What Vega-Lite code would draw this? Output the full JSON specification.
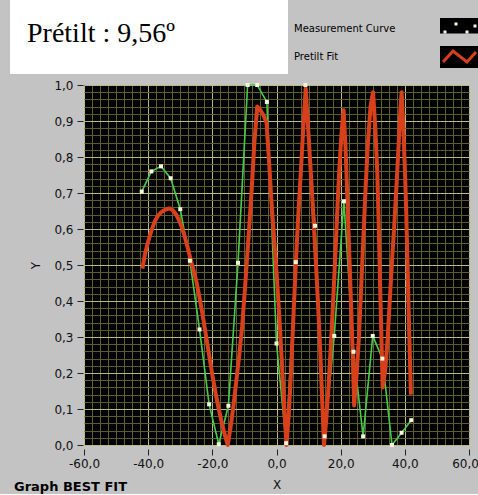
{
  "$schema": "https://vega.github.io/schema/vega-lite/v6.json",
  "background": "#c3c3c3",
  "padding": {"left": 10, "top": 0, "right": 0, "bottom": 0},
  "spacing": 5,
  "title": {
    "text": "Graph BEST FIT",
    "orient": "bottom",
    "anchor": "start",
    "frame": "group",
    "offset": 1,
    "dx": 4,
    "baseline": "alphabetic",
    "font": "DejaVu Sans",
    "fontSize": 13,
    "fontWeight": "bold",
    "color": "black"
  },
  "datasets": {
    "measure": [
      {"series": "Measurement Curve", "x": -42, "y": 0.704},
      {"series": "Measurement Curve", "x": -39, "y": 0.760},
      {"series": "Measurement Curve", "x": -36, "y": 0.774},
      {"series": "Measurement Curve", "x": -33, "y": 0.741},
      {"series": "Measurement Curve", "x": -30, "y": 0.655},
      {"series": "Measurement Curve", "x": -27, "y": 0.512},
      {"series": "Measurement Curve", "x": -24, "y": 0.321},
      {"series": "Measurement Curve", "x": -21, "y": 0.113},
      {"series": "Measurement Curve", "x": -18, "y": 0.002},
      {"series": "Measurement Curve", "x": -15, "y": 0.109},
      {"series": "Measurement Curve", "x": -12, "y": 0.506},
      {"series": "Measurement Curve", "x": -9, "y": 1.0},
      {"series": "Measurement Curve", "x": -6, "y": 1.0},
      {"series": "Measurement Curve", "x": -3, "y": 0.953},
      {"series": "Measurement Curve", "x": 0, "y": 0.282},
      {"series": "Measurement Curve", "x": 3, "y": 0.005},
      {"series": "Measurement Curve", "x": 6, "y": 0.508},
      {"series": "Measurement Curve", "x": 9, "y": 1.0},
      {"series": "Measurement Curve", "x": 12, "y": 0.609},
      {"series": "Measurement Curve", "x": 15, "y": 0.024},
      {"series": "Measurement Curve", "x": 18, "y": 0.303},
      {"series": "Measurement Curve", "x": 21, "y": 0.677},
      {"series": "Measurement Curve", "x": 24, "y": 0.259},
      {"series": "Measurement Curve", "x": 27, "y": 0.024},
      {"series": "Measurement Curve", "x": 30, "y": 0.303},
      {"series": "Measurement Curve", "x": 33, "y": 0.240},
      {"series": "Measurement Curve", "x": 36, "y": 0.0},
      {"series": "Measurement Curve", "x": 39, "y": 0.034},
      {"series": "Measurement Curve", "x": 42, "y": 0.069}
    ],
    "fit": [
      {"series": "Pretilt Fit", "x": -41.8, "y": 0.49},
      {"series": "Pretilt Fit", "x": -41.0, "y": 0.53},
      {"series": "Pretilt Fit", "x": -40.0, "y": 0.565},
      {"series": "Pretilt Fit", "x": -39.0, "y": 0.595},
      {"series": "Pretilt Fit", "x": -38.0, "y": 0.62},
      {"series": "Pretilt Fit", "x": -37.0, "y": 0.636},
      {"series": "Pretilt Fit", "x": -36.0, "y": 0.646},
      {"series": "Pretilt Fit", "x": -35.0, "y": 0.652},
      {"series": "Pretilt Fit", "x": -34.0, "y": 0.656},
      {"series": "Pretilt Fit", "x": -33.2, "y": 0.657},
      {"series": "Pretilt Fit", "x": -32.3, "y": 0.652},
      {"series": "Pretilt Fit", "x": -31.4, "y": 0.642},
      {"series": "Pretilt Fit", "x": -30.5, "y": 0.627},
      {"series": "Pretilt Fit", "x": -29.6, "y": 0.607},
      {"series": "Pretilt Fit", "x": -28.7, "y": 0.582},
      {"series": "Pretilt Fit", "x": -27.8, "y": 0.553},
      {"series": "Pretilt Fit", "x": -26.9, "y": 0.52},
      {"series": "Pretilt Fit", "x": -26.0, "y": 0.49},
      {"series": "Pretilt Fit", "x": -25.0, "y": 0.455},
      {"series": "Pretilt Fit", "x": -24.0, "y": 0.41},
      {"series": "Pretilt Fit", "x": -23.0, "y": 0.36},
      {"series": "Pretilt Fit", "x": -22.0, "y": 0.305},
      {"series": "Pretilt Fit", "x": -21.0, "y": 0.25},
      {"series": "Pretilt Fit", "x": -20.0, "y": 0.195},
      {"series": "Pretilt Fit", "x": -19.0, "y": 0.145},
      {"series": "Pretilt Fit", "x": -18.0, "y": 0.1},
      {"series": "Pretilt Fit", "x": -17.0, "y": 0.06},
      {"series": "Pretilt Fit", "x": -16.0, "y": 0.025},
      {"series": "Pretilt Fit", "x": -15.2, "y": 0.0},
      {"series": "Pretilt Fit", "x": -14.3, "y": 0.05},
      {"series": "Pretilt Fit", "x": -13.4, "y": 0.11},
      {"series": "Pretilt Fit", "x": -12.5, "y": 0.18},
      {"series": "Pretilt Fit", "x": -11.6, "y": 0.25},
      {"series": "Pretilt Fit", "x": -10.7, "y": 0.33},
      {"series": "Pretilt Fit", "x": -9.7, "y": 0.45},
      {"series": "Pretilt Fit", "x": -8.7, "y": 0.58},
      {"series": "Pretilt Fit", "x": -7.8, "y": 0.7},
      {"series": "Pretilt Fit", "x": -6.9, "y": 0.84},
      {"series": "Pretilt Fit", "x": -6.0, "y": 0.94},
      {"series": "Pretilt Fit", "x": -5.0, "y": 0.93},
      {"series": "Pretilt Fit", "x": -4.0, "y": 0.915},
      {"series": "Pretilt Fit", "x": -3.1, "y": 0.895},
      {"series": "Pretilt Fit", "x": -2.4, "y": 0.8},
      {"series": "Pretilt Fit", "x": -1.6, "y": 0.68},
      {"series": "Pretilt Fit", "x": -0.8, "y": 0.58},
      {"series": "Pretilt Fit", "x": 0.0, "y": 0.48},
      {"series": "Pretilt Fit", "x": 0.8, "y": 0.37},
      {"series": "Pretilt Fit", "x": 1.6, "y": 0.24},
      {"series": "Pretilt Fit", "x": 2.4, "y": 0.11},
      {"series": "Pretilt Fit", "x": 3.1, "y": 0.0},
      {"series": "Pretilt Fit", "x": 3.8, "y": 0.08},
      {"series": "Pretilt Fit", "x": 4.5, "y": 0.2},
      {"series": "Pretilt Fit", "x": 5.3, "y": 0.36},
      {"series": "Pretilt Fit", "x": 6.1, "y": 0.52},
      {"series": "Pretilt Fit", "x": 6.8, "y": 0.64},
      {"series": "Pretilt Fit", "x": 7.6, "y": 0.76},
      {"series": "Pretilt Fit", "x": 8.4, "y": 0.89},
      {"series": "Pretilt Fit", "x": 9.1, "y": 0.99},
      {"series": "Pretilt Fit", "x": 9.8, "y": 0.89},
      {"series": "Pretilt Fit", "x": 10.6, "y": 0.77},
      {"series": "Pretilt Fit", "x": 11.4, "y": 0.65},
      {"series": "Pretilt Fit", "x": 12.2, "y": 0.52},
      {"series": "Pretilt Fit", "x": 12.9, "y": 0.4},
      {"series": "Pretilt Fit", "x": 13.6, "y": 0.27},
      {"series": "Pretilt Fit", "x": 14.2, "y": 0.13},
      {"series": "Pretilt Fit", "x": 14.8, "y": 0.0},
      {"series": "Pretilt Fit", "x": 15.5, "y": 0.07},
      {"series": "Pretilt Fit", "x": 16.2, "y": 0.16},
      {"series": "Pretilt Fit", "x": 16.9, "y": 0.27},
      {"series": "Pretilt Fit", "x": 17.6, "y": 0.39},
      {"series": "Pretilt Fit", "x": 18.3, "y": 0.52},
      {"series": "Pretilt Fit", "x": 19.0, "y": 0.66},
      {"series": "Pretilt Fit", "x": 19.6, "y": 0.77},
      {"series": "Pretilt Fit", "x": 20.3, "y": 0.87},
      {"series": "Pretilt Fit", "x": 20.9, "y": 0.93},
      {"series": "Pretilt Fit", "x": 21.5, "y": 0.83},
      {"series": "Pretilt Fit", "x": 22.1, "y": 0.68},
      {"series": "Pretilt Fit", "x": 22.7, "y": 0.53},
      {"series": "Pretilt Fit", "x": 23.2, "y": 0.4},
      {"series": "Pretilt Fit", "x": 23.7, "y": 0.27},
      {"series": "Pretilt Fit", "x": 24.2, "y": 0.11},
      {"series": "Pretilt Fit", "x": 25.0, "y": 0.2},
      {"series": "Pretilt Fit", "x": 25.7, "y": 0.3},
      {"series": "Pretilt Fit", "x": 26.4, "y": 0.44},
      {"series": "Pretilt Fit", "x": 27.1, "y": 0.58},
      {"series": "Pretilt Fit", "x": 27.8, "y": 0.72},
      {"series": "Pretilt Fit", "x": 28.5, "y": 0.84},
      {"series": "Pretilt Fit", "x": 29.3, "y": 0.94},
      {"series": "Pretilt Fit", "x": 30.1, "y": 0.98},
      {"series": "Pretilt Fit", "x": 30.8, "y": 0.88},
      {"series": "Pretilt Fit", "x": 31.4, "y": 0.76},
      {"series": "Pretilt Fit", "x": 31.9, "y": 0.6},
      {"series": "Pretilt Fit", "x": 32.3, "y": 0.44},
      {"series": "Pretilt Fit", "x": 32.7, "y": 0.3},
      {"series": "Pretilt Fit", "x": 33.1, "y": 0.16},
      {"series": "Pretilt Fit", "x": 33.9, "y": 0.21},
      {"series": "Pretilt Fit", "x": 34.6, "y": 0.29},
      {"series": "Pretilt Fit", "x": 35.3, "y": 0.4},
      {"series": "Pretilt Fit", "x": 36.0, "y": 0.51},
      {"series": "Pretilt Fit", "x": 36.7, "y": 0.61},
      {"series": "Pretilt Fit", "x": 37.4, "y": 0.72},
      {"series": "Pretilt Fit", "x": 38.1, "y": 0.84},
      {"series": "Pretilt Fit", "x": 38.6, "y": 0.93},
      {"series": "Pretilt Fit", "x": 39.0, "y": 0.98},
      {"series": "Pretilt Fit", "x": 39.5, "y": 0.89},
      {"series": "Pretilt Fit", "x": 40.0, "y": 0.77},
      {"series": "Pretilt Fit", "x": 40.4, "y": 0.66},
      {"series": "Pretilt Fit", "x": 40.9, "y": 0.48},
      {"series": "Pretilt Fit", "x": 41.4, "y": 0.3},
      {"series": "Pretilt Fit", "x": 41.9, "y": 0.14}
    ]
  },
  "vconcat": [
    {
      "width": 278,
      "height": 74,
      "view": {"fill": "white", "stroke": null},
      "data": {"values": [{}]},
      "mark": {"type": "rect", "color": "white"},
      "title": {
        "text": "Prétilt : 9,56º",
        "orient": "top",
        "anchor": "start",
        "frame": "group",
        "offset": -70,
        "dx": 17,
        "baseline": "alphabetic",
        "font": "Liberation Serif",
        "fontSize": 28,
        "fontWeight": "normal",
        "color": "black"
      }
    },
    {
      "spacing": 0,
      "hconcat": [
        {
          "width": 19,
          "height": 10,
          "view": {"fill": null, "stroke": null},
          "data": {"values": [{}]},
          "mark": {"type": "rect", "opacity": 0}
        },
        {
          "width": 385,
          "height": 360,
          "view": {"fill": "black", "stroke": null},
          "encoding": {
            "x": {
              "field": "x",
              "type": "quantitative",
              "scale": {"domain": [-60, 60], "nice": false, "zero": false},
              "axis": {
                "title": "X",
                "titlePadding": 10,
                "offset": 4,
                "values": [-60, -57.5, -55, -52.5, -50, -47.5, -45, -42.5, -40, -37.5, -35, -32.5, -30, -27.5, -25, -22.5, -20, -17.5, -15, -12.5, -10, -7.5, -5, -2.5, 0, 2.5, 5, 7.5, 10, 12.5, 15, 17.5, 20, 22.5, 25, 27.5, 30, 32.5, 35, 37.5, 40, 42.5, 45, 47.5, 50, 52.5, 55, 57.5, 60],
                "grid": true,
                "gridWidth": 1,
                "gridOpacity": 1,
                "gridColor": {"condition": {"test": "datum.value % 20 === 0", "value": "#b9b97c"}, "value": "#5e5e2c"},
                "tickSize": 6,
                "tickColor": {"condition": {"test": "datum.value % 20 === 0", "value": "#222222"}, "value": "transparent"},
                "labelExpr": "datum.value % 20 === 0 ? (datum.value < 0 ? '-' : '') + replace(format(abs(datum.value), '.1f'), '.', ',') : ''",
                "labelOffset": {"condition": {"test": "datum.value === 60", "value": -4}, "value": 0},
                "labelPadding": 3,
                "labelOverlap": false,
                "labelFlush": false
              }
            },
            "y": {
              "field": "y",
              "type": "quantitative",
              "scale": {"domain": [0, 1], "nice": false, "zero": false},
              "axis": {
                "title": "Y",
                "titlePadding": 11,
                "offset": 1,
                "values": [0, 0.02, 0.04, 0.06, 0.08, 0.1, 0.12, 0.14, 0.16, 0.18, 0.2, 0.22, 0.24, 0.26, 0.28, 0.3, 0.32, 0.34, 0.36, 0.38, 0.4, 0.42, 0.44, 0.46, 0.48, 0.5, 0.52, 0.54, 0.56, 0.58, 0.6, 0.62, 0.64, 0.66, 0.68, 0.7, 0.72, 0.74, 0.76, 0.78, 0.8, 0.82, 0.84, 0.86, 0.88, 0.9, 0.92, 0.94, 0.96, 0.98, 1],
                "grid": true,
                "gridWidth": 1,
                "gridOpacity": 1,
                "gridColor": {"condition": {"test": "abs(datum.value * 10 - round(datum.value * 10)) < 0.001", "value": "#b9b97c"}, "value": "#5e5e2c"},
                "tickSize": 6,
                "tickColor": {"condition": {"test": "abs(datum.value * 10 - round(datum.value * 10)) < 0.001", "value": "#222222"}, "value": "transparent"},
                "labelExpr": "abs(datum.value * 10 - round(datum.value * 10)) < 0.001 ? replace(format(datum.value, '.1f'), '.', ',') : ''",
                "labelPadding": 4,
                "labelOverlap": false,
                "labelFlush": false
              }
            }
          },
          "layer": [
            {
              "data": {"name": "measure"},
              "mark": {"type": "line", "strokeWidth": 1.6},
              "encoding": {
                "color": {
                  "field": "series",
                  "type": "nominal",
                  "scale": {"domain": ["Measurement Curve", "Pretilt Fit"], "range": ["#48cc48", "#d8401c"]},
                  "legend": {
                    "orient": "none",
                    "legendX": 430,
                    "legendY": 18,
                    "title": null,
                    "padding": 0,
                    "direction": "vertical",
                    "rowPadding": 11,
                    "symbolSize": 324,
                    "symbolStrokeWidth": 3,
                    "labelFont": "DejaVu Sans",
                    "labelFontSize": 10,
                    "labelColor": "black",
                    "labelAlign": "left",
                    "labelBaseline": "middle",
                    "labelOffset": -167,
                    "labelLimit": 200,
                    "encoding": {
                      "entries": {
                        "fill": {"value": "black"},
                        "width": {"value": 38},
                        "height": {"value": 21}
                      },
                      "symbols": {
                        "size": {"value": 324},
                        "strokeWidth": {"value": 3},
                        "opacity": {"value": 1},
                        "shape": {
                          "condition": {"test": "datum.value === 'Pretilt Fit'", "value": "M-0.833,0.611L0.278,-0.611L1.833,0.611L2.833,-0.5"},
                          "value": "M-0.778,0.222h0.333v0.333h-0.333zM0.444,-0.667h0.333v0.333h-0.333zM1.667,0.222h0.333v0.333h-0.333zM2.556,-0.444h0.333v0.333h-0.333z"
                        },
                        "fill": {
                          "condition": {"test": "datum.value === 'Pretilt Fit'", "value": "transparent"},
                          "value": "#f6f6dc"
                        },
                        "strokeOpacity": {
                          "condition": {"test": "datum.value === 'Pretilt Fit'", "value": 1},
                          "value": 0
                        }
                      }
                    }
                  }
                }
              }
            },
            {
              "data": {"name": "fit"},
              "mark": {"type": "line", "strokeWidth": 4, "strokeJoin": "round"},
              "encoding": {
                "color": {
                  "field": "series",
                  "type": "nominal",
                  "scale": {"domain": ["Measurement Curve", "Pretilt Fit"], "range": ["#48cc48", "#d8401c"]}
                }
              }
            },
            {
              "data": {"name": "measure"},
              "mark": {"type": "square", "size": 16, "color": "#f6f6dc", "opacity": 1}
            }
          ]
        }
      ]
    }
  ],
  "config": {
    "view": {"stroke": null},
    "axis": {
      "domain": false,
      "labelFont": "DejaVu Sans",
      "labelFontSize": 12,
      "labelColor": "#111111",
      "titleFont": "DejaVu Sans",
      "titleFontSize": 12,
      "titleFontWeight": "normal",
      "titleColor": "#111111",
      "tickWidth": 1
    }
  }
}
